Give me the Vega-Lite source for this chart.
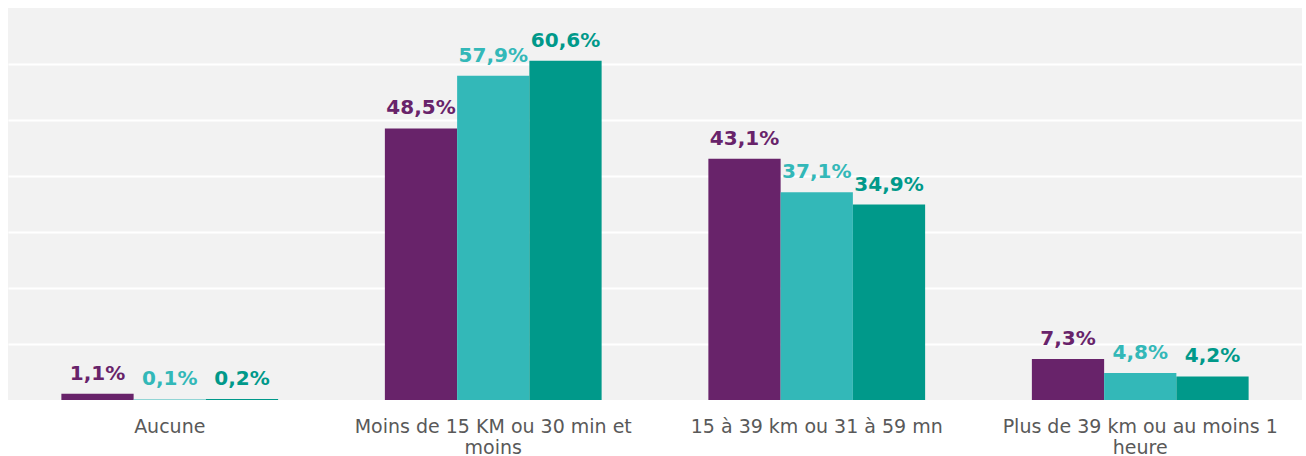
{
  "$schema": "https://vega.github.io/schema/vega-lite/v6.json",
  "width": 1294,
  "height": 392,
  "padding": {"left": 8, "top": 8, "right": 4, "bottom": 0},
  "background": "white",
  "config": {
    "view": {"fill": "#F2F2F2", "stroke": null},
    "font": "DejaVu Sans",
    "locale": {"number": {"decimal": ",", "thousands": " ", "grouping": [3], "currency": ["", " €"]}}
  },
  "data": {
    "values": [
      {"categorie": "Aucune", "serie": "Série 1", "valeur": 0.011},
      {"categorie": "Aucune", "serie": "Série 2", "valeur": 0.001},
      {"categorie": "Aucune", "serie": "Série 3", "valeur": 0.002},
      {"categorie": "Moins de 15 KM ou 30 min et moins", "serie": "Série 1", "valeur": 0.485},
      {"categorie": "Moins de 15 KM ou 30 min et moins", "serie": "Série 2", "valeur": 0.579},
      {"categorie": "Moins de 15 KM ou 30 min et moins", "serie": "Série 3", "valeur": 0.606},
      {"categorie": "15 à 39 km ou 31 à 59 mn", "serie": "Série 1", "valeur": 0.431},
      {"categorie": "15 à 39 km ou 31 à 59 mn", "serie": "Série 2", "valeur": 0.371},
      {"categorie": "15 à 39 km ou 31 à 59 mn", "serie": "Série 3", "valeur": 0.349},
      {"categorie": "Plus de 39 km ou au moins 1 heure", "serie": "Série 1", "valeur": 0.073},
      {"categorie": "Plus de 39 km ou au moins 1 heure", "serie": "Série 2", "valeur": 0.048},
      {"categorie": "Plus de 39 km ou au moins 1 heure", "serie": "Série 3", "valeur": 0.042}
    ]
  },
  "encoding": {
    "x": {
      "field": "categorie",
      "type": "nominal",
      "sort": null,
      "scale": {"paddingInner": 0.33, "paddingOuter": 0.165},
      "axis": {
        "title": null,
        "labelAngle": 0,
        "ticks": false,
        "domain": false,
        "labelFontSize": 19,
        "labelColor": "#595959",
        "labelPadding": 17,
        "labelLineHeight": 21,
        "labelLimit": 0,
        "labelBaseline": "top",
        "labelExpr": "datum.label == 'Moins de 15 KM ou 30 min et moins' ? ['Moins de 15 KM ou 30 min et', 'moins'] : datum.label == 'Plus de 39 km ou au moins 1 heure' ? ['Plus de 39 km ou au moins 1', 'heure'] : datum.label"
      }
    },
    "xOffset": {"field": "serie", "type": "nominal", "sort": null},
    "y": {
      "field": "valeur",
      "type": "quantitative",
      "scale": {"domain": [0, 0.7], "nice": false},
      "axis": {
        "title": null,
        "labels": false,
        "ticks": false,
        "domain": false,
        "grid": true,
        "gridColor": "white",
        "gridWidth": 2,
        "values": [0.1, 0.2, 0.3, 0.4, 0.5, 0.6]
      }
    },
    "color": {
      "field": "serie",
      "type": "nominal",
      "scale": {"domain": ["Série 1", "Série 2", "Série 3"], "range": ["#68236A", "#33B8B8", "#00998A"]},
      "legend": null
    }
  },
  "layer": [
    {"mark": {"type": "bar"}},
    {
      "mark": {"type": "text", "dy": -10, "baseline": "bottom", "fontSize": 20, "fontWeight": "bold"},
      "encoding": {"text": {"field": "valeur", "type": "quantitative", "format": ".1%"}}
    }
  ]
}
